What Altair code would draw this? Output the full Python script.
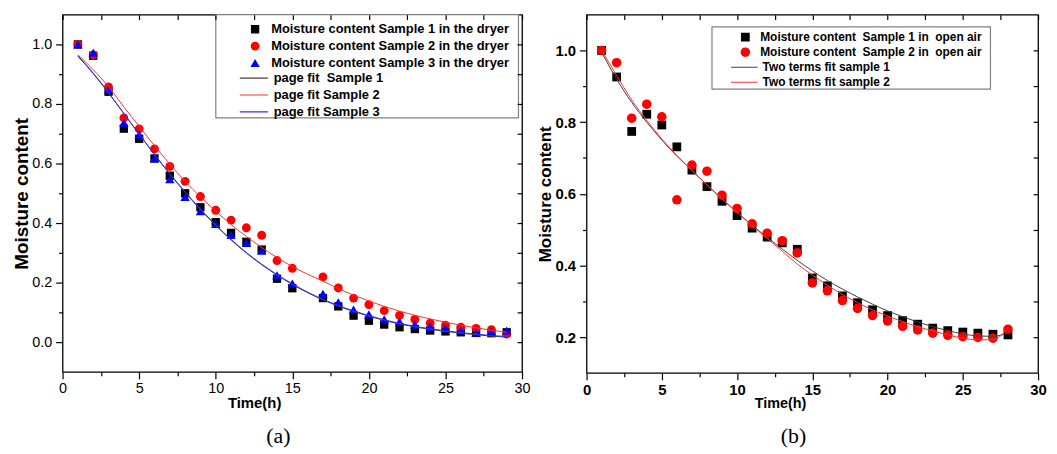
import altair as alt
import pandas as pd

# ---------------- data: panel (a) dryer ----------------
TA = [1, 2, 3, 4, 5, 6, 7, 8, 9, 10, 11, 12, 13, 14, 15,
      17, 18, 19, 20, 21, 22, 23, 24, 25, 26, 27, 28, 29]
A_S1 = [1.0, 0.962, 0.841, 0.717, 0.683, 0.617, 0.559, 0.5, 0.453, 0.403, 0.367, 0.337, 0.311, 0.213, 0.181,
        0.148, 0.12, 0.089, 0.072, 0.059, 0.05, 0.044, 0.039, 0.036, 0.033, 0.031, 0.03, 0.033]
A_S2 = [1.0, 0.965, 0.857, 0.753, 0.716, 0.649, 0.59, 0.54, 0.489, 0.443, 0.41, 0.384, 0.359, 0.274, 0.248,
        0.219, 0.182, 0.148, 0.126, 0.106, 0.09, 0.076, 0.064, 0.057, 0.05, 0.046, 0.042, 0.027]
A_S3 = [1.0, 0.972, 0.848, 0.737, 0.697, 0.617, 0.547, 0.488, 0.44, 0.397, 0.36, 0.333, 0.307, 0.224, 0.197,
        0.162, 0.134, 0.109, 0.093, 0.077, 0.069, 0.059, 0.051, 0.046, 0.04, 0.032, 0.036, 0.039]

TFA = list(range(1, 30))
A_F1 = [0.962, 0.904, 0.838, 0.768, 0.698, 0.630, 0.564, 0.503, 0.445, 0.392, 0.343, 0.299, 0.260, 0.225, 0.194,
        0.166, 0.142, 0.121, 0.103, 0.087, 0.073, 0.061, 0.051, 0.043, 0.036, 0.030, 0.025, 0.020, 0.017]
A_F2 = [0.965, 0.915, 0.858, 0.79, 0.725, 0.66, 0.598, 0.54, 0.488, 0.44, 0.395, 0.355, 0.318, 0.284, 0.254,
        0.228, 0.205, 0.18, 0.158, 0.138, 0.12, 0.104, 0.09, 0.078, 0.067, 0.057, 0.048, 0.04, 0.033]
A_F3 = [0.960, 0.902, 0.837, 0.768, 0.699, 0.631, 0.566, 0.505, 0.447, 0.394, 0.345, 0.301, 0.262, 0.227, 0.196,
        0.168, 0.144, 0.123, 0.105, 0.089, 0.075, 0.063, 0.053, 0.045, 0.038, 0.032, 0.027, 0.022, 0.019]

SER_A = ["Moisture content Sample 1 in the dryer",
         "Moisture content Sample 2 in the dryer",
         "Moisture content Sample 3 in the dryer"]
FIT_A = ["page fit \u00a0Sample 1", "page fit Sample 2", "page fit Sample 3"]

# ---------------- data: panel (b) open air ----------------
TB = list(range(1, 29))
B_S1 = [1.0, 0.926, 0.774, 0.822, 0.792, 0.731, 0.666, 0.620, 0.579, 0.539, 0.504, 0.479, 0.463, 0.445,
        0.365, 0.343, 0.315, 0.296, 0.276, 0.260, 0.246, 0.236, 0.225, 0.218, 0.214, 0.211, 0.208, 0.206]
B_S2 = [1.0, 0.966, 0.811, 0.85, 0.815, 0.583, 0.68, 0.663, 0.596, 0.559, 0.516, 0.490, 0.469, 0.435,
        0.351, 0.329, 0.302, 0.280, 0.260, 0.245, 0.230, 0.220, 0.211, 0.205, 0.201, 0.199, 0.197, 0.222]
B_F1 = [0.995, 0.92, 0.855, 0.80, 0.75, 0.705, 0.665, 0.625, 0.585, 0.548, 0.512, 0.478, 0.446, 0.414,
        0.385, 0.358, 0.334, 0.312, 0.292, 0.273, 0.257, 0.242, 0.229, 0.218, 0.209, 0.203, 0.202, 0.212]
B_F2 = [1.0, 0.93, 0.862, 0.805, 0.753, 0.707, 0.665, 0.625, 0.586, 0.548, 0.511, 0.475, 0.44, 0.404,
        0.373, 0.345, 0.319, 0.296, 0.276, 0.259, 0.243, 0.229, 0.217, 0.206, 0.197, 0.192, 0.193, 0.224]

SER_B = ["\u00a0Moisture content \u00a0Sample 1 in \u00a0open air",
         "Moisture content \u00a0Sample 2 in \u00a0open air"]
FIT_B = ["Two terms fit sample 1", "\u00a0Two terms fit sample 2"]

# ticks
X_TICKS = [0, 2.5, 5, 7.5, 10, 12.5, 15, 17.5, 20, 22.5, 25, 27.5, 30]
YA_TICKS = [0.0, 0.1, 0.2, 0.3, 0.4, 0.5, 0.6, 0.7, 0.8, 0.9, 1.0]
YB_TICKS = [0.2, 0.3, 0.4, 0.5, 0.6, 0.7, 0.8, 0.9, 1.0]

FONT = "Liberation Sans"


def long(t, series_vals, names, key):
    rows = []
    for i, (vals, name) in enumerate(zip(series_vals, names)):
        for ti, v in zip(t, vals):
            rows.append({"t": ti, "v": v, key: name, "ord": i})
    return pd.DataFrame(rows)


X_MAJOR = "datum.value % 5 === 0"
Y_MAJOR = "round(datum.value * 10) % 2 === 0"


def panel(pts, fits, names, fitnames, colors, shapes, sizes, fitcolors, ydom, ytick, w, h,
          tick_font, tick_weight, ytitle_size, xtitle_x, xtitle_size, caption, cap_dx,
          box, pleg, lleg, leg_font):
    xs = alt.Scale(domain=[0, 30], nice=False, zero=False)
    ys = alt.Scale(domain=ydom, nice=False, zero=False)

    x_axis = alt.Axis(values=X_TICKS, format="d", labelExpr=X_MAJOR + " ? datum.label : ''",
                      tickSize={"condition": {"test": X_MAJOR, "value": 7}, "value": 4},
                      tickWidth=1.2, tickColor="black", domain=False, grid=False,
                      labelFont=FONT, labelFontSize=tick_font, labelFontWeight=tick_weight,
                      labelColor="black", labelPadding=3, labelFlush=False, labelOverlap=False,
                      title="Time(h)", titleFont=FONT, titleFontSize=xtitle_size, titleFontWeight="bold",
                      titleColor="black", titleX=xtitle_x, titleY=31, titleBaseline="middle",
                      titleAlign="center")
    y_axis = alt.Axis(values=ytick, format=".1f", labelExpr=Y_MAJOR + " ? datum.label : ''",
                      tickSize={"condition": {"test": Y_MAJOR, "value": 7}, "value": 4},
                      tickWidth=1.2, tickColor="black", domain=False, grid=False,
                      labelFont=FONT, labelFontSize=tick_font, labelFontWeight=tick_weight,
                      labelColor="black", labelPadding=4, labelFlush=False, labelOverlap=False,
                      title="Moisture content", titleFont=FONT, titleFontSize=ytitle_size,
                      titleFontWeight="bold", titleColor="black", titleX=-41, titleY=h / 2,
                      titleAngle=270, titleBaseline="middle", titleAlign="center")
    x_top = alt.Axis(orient="top", values=X_TICKS, labels=False, title=None, domain=False, grid=False,
                     tickSize=5, offset=-5, tickWidth=1.2, tickColor="black", zindex=2)
    y_right = alt.Axis(orient="right", values=ytick, labels=False, title=None, domain=False, grid=False,
                       tickSize=5, offset=-5, tickWidth=1.2, tickColor="black", zindex=2)

    frame = alt.Chart(pd.DataFrame({"k": [0]})).mark_rect(
        fill="white", stroke="#808080", strokeWidth=1.2
    ).encode(x=alt.value(box[0]), x2=alt.value(box[1]), y=alt.value(box[2]), y2=alt.value(box[3]))

    p_legend = alt.Legend(orient="none", legendX=pleg[0], legendY=pleg[1], title=None,
                          labelFont=FONT, labelFontSize=leg_font, labelFontWeight="bold",
                          labelColor="black", symbolStrokeWidth=0, padding=0,
                          labelOffset=pleg[2], rowPadding=pleg[3], clipHeight=leg_font,
                          symbolOffset=0, labelLimit=400)
    points = alt.Chart(pts).mark_point(filled=True, opacity=1).encode(
        x=alt.X("t:Q", scale=xs, axis=x_axis),
        y=alt.Y("v:Q", scale=ys, axis=y_axis),
        fill=alt.Fill("series:N", scale=alt.Scale(domain=names, range=colors), legend=p_legend),
        shape=alt.Shape("series:N", scale=alt.Scale(domain=names, range=shapes), legend=p_legend),
        size=alt.Size("series:N", scale=alt.Scale(domain=names, range=sizes), legend=p_legend),
        order=alt.Order("ord:Q"),
    )

    l_legend = alt.Legend(orient="none", legendX=lleg[0], legendY=lleg[1], title=None,
                          labelFont=FONT, labelFontSize=leg_font, labelFontWeight="bold",
                          labelColor="black", symbolType="stroke", symbolSize=lleg[4],
                          symbolStrokeWidth=1.2, padding=0, labelOffset=lleg[2],
                          rowPadding=lleg[3], clipHeight=leg_font, symbolOffset=0, labelLimit=400)
    lines = alt.Chart(fits).mark_line(strokeWidth=1, interpolate="monotone").encode(
        x=alt.X("t:Q", scale=xs, axis=x_top),
        y=alt.Y("v:Q", scale=ys, axis=y_right),
        stroke=alt.Stroke("fit:N", scale=alt.Scale(domain=fitnames, range=fitcolors), legend=l_legend),
        detail="fit:N",
    )

    return alt.layer(frame, points, lines).resolve_axis(x="independent", y="independent").properties(
        width=w, height=h,
        title=alt.TitleParams(caption, orient="bottom", font="Liberation Serif", fontSize=22,
                              fontWeight="normal", color="black", dx=cap_dx, offset=16, anchor="middle"),
    )


pa = long(TA, [A_S1, A_S2, A_S3], SER_A, "series")
fa = long(TFA, [A_F1, A_F2, A_F3], FIT_A, "fit")
pb = long(TB, [B_S1, B_S2], SER_B, "series")
fb = long(TB, [B_F1, B_F2], FIT_B, "fit")

left = panel(pa, fa, SER_A, FIT_A, ["#000000", "#ff0000", "#0000ff"],
             ["square", "circle", "triangle-up"], [70, 90, 115], ["#404040", "#ff3030", "#2a2aff"],
             [-0.1, 1.1], YA_TICKS, 463, 360, 14.5, "normal", 19, 193, 15, "(a)", -14,
             (154.4, 459.4, 0, 104), (187.5, 8.2, 9.7, 3), (177.7, 57.5, 5, 3, 800), 13)
right = panel(pb, fb, SER_B, FIT_B, ["#000000", "#ff0000"],
              ["square", "circle"], [78, 92], ["#404040", "#ff3030"],
              [0.1, 1.1], YB_TICKS, 455, 361, 15, "bold", 17, 195, 14.5, "(b)", -19,
              (126.4, 407, 12.3, 75), (154, 16.7, 9.0, 3.1), (145, 47, 4.3, 3.1, 713), 12)

chart = alt.hconcat(left, right, spacing=5).resolve_scale(
    x="independent", y="independent", fill="independent", shape="independent",
    size="independent", stroke="independent"
).configure_view(stroke="black", strokeWidth=1.3).properties(
    padding={"left": 4, "top": 3, "right": 2, "bottom": 0}
)

chart.save("out.html", embed_options={"renderer": "svg", "actions": False})
